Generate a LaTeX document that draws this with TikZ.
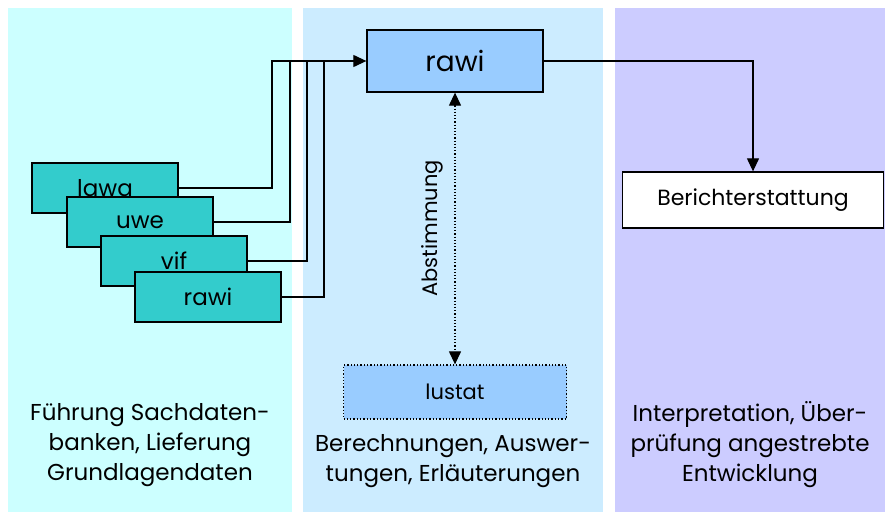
\documentclass[tikz,border=0pt]{standalone}
\usepackage{fontspec}
\setmainfont{Poppins}
\usetikzlibrary{arrows.meta}
\definecolor{panelA}{HTML}{CCFFFF}
\definecolor{panelB}{HTML}{CCECFF}
\definecolor{panelC}{HTML}{CCCCFF}
\definecolor{boxblue}{HTML}{99CCFF}
\definecolor{boxteal}{HTML}{33CCCC}
\tikzset{
    srcbox/.style = {draw, line width=1.3pt, fill=boxteal, minimum width=146pt,
        minimum height=50pt, inner sep=0pt, font=\fontsize{23}{26}\selectfont},
    mainbox/.style = {draw, line width=1.3pt, fill=boxblue, minimum width=176pt,
        minimum height=62pt, inner sep=0pt, font=\fontsize{28}{30}\selectfont},
    panellabel/.style = {align=center, font=\fontsize{23}{30}\selectfont},
    link/.style = {line width=1.2pt, -{Triangle[length=13pt,width=12pt]}},
}
\begin{document}
\begin{tikzpicture}[x=1pt, y=-1pt]
    \useasboundingbox (0,0) rectangle (885,513);
    % panels
    \fill[panelA] (8,8) rectangle (292,512);
    \fill[panelB] (303,8) rectangle (603,512);
    \fill[panelC] (615,8) rectangle (885,512);

    % nodes
    \node[mainbox] (rawi) at (455,61) {rawi};
    \node[draw, line width=1.3pt, fill=white, minimum width=261pt, minimum height=56pt,
        font=\fontsize{22}{24}\selectfont] (bericht) at (753,200) {Berichterstattung};
    \node[draw, dotted, line width=1.3pt, fill=boxblue, minimum width=223pt, minimum height=54pt,
        font=\fontsize{21}{24}\selectfont] (lustat) at (455,392) {lustat};

    \node[srcbox] (lawa) at (105,188) {lawa};
    \node[srcbox] (uwe) at (140,222) {uwe};
    \node[srcbox] (vif) at (174,261) {vif};
    \node[srcbox] (rawisrc) at (208,297) {rawi};

    % connectors
    \coordinate (top) at (272,61);
    \draw[link] (lawa.east) -| (top) -- (rawi.west);
    \draw[line width=1.2pt] (uwe.east) -| (290,61);
    \draw[line width=1.2pt] (vif.east) -| (307,61);
    \draw[line width=1.2pt] (rawisrc.east) -| (324,61);
    \draw[link] (rawi.east) -| (bericht.north);
    \draw[line width=1.2pt, dotted, {Triangle[length=13pt,width=12pt]}-{Triangle[length=13pt,width=12pt]}]
        (rawi.south) -- node[left=8pt, rotate=90, anchor=south, font=\fontsize{21}{24}\selectfont] {Abstimmung} (lustat.north);

    % panel texts
    \node[panellabel] (txtA) at (150,445) {Führung Sachdaten-\\banken, Lieferung\\Grundlagendaten};
    \node[panellabel] (txtB) at (453,461) {Berechnungen, Auswer-\\tungen, Erläuterungen};
    \node[panellabel] (txtC) at (750,445) {Interpretation, Über-\\prüfung angestrebte\\Entwicklung};
\end{tikzpicture}
\end{document}
